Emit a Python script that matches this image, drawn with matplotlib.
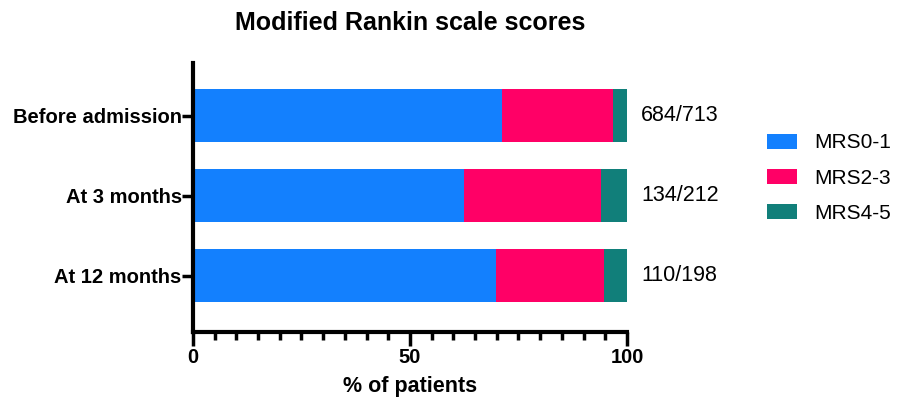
import numpy as np
import matplotlib.pyplot as plt

plt.rcParams['font.family'] = ['Liberation Sans', 'DejaVu Sans']

categories = ['At 12 months', 'At 3 months', 'Before admission']
mrs01 = [69.8, 62.5, 71.3]
mrs23 = [24.8, 31.6, 25.5]
mrs45 = [5.4, 5.9, 3.2]
counts = ['110/198', '134/212', '684/713']
series_names = ['MRS0-1', 'MRS2-3', 'MRS4-5']
colors = ['#1380FE', '#FF0066', '#117F7A']

fig = plt.figure(figsize=(8.97, 4.03), dpi=100)
ax = fig.add_axes([0.215, 0.177, 0.484, 0.667])

y = np.arange(len(categories))
left = np.zeros(len(categories))
for vals, name, c in zip([mrs01, mrs23, mrs45], series_names, colors):
    ax.barh(y, vals, left=left, height=0.66, color=c, label=name)
    left += np.array(vals)

for yi, txt in zip(y, counts):
    ax.text(103.3, yi, txt, va='center', ha='left', fontsize=15.5)

ax.set_xlim(0, 100)
ax.set_ylim(-0.7, 2.66)
ax.set_yticks(y)
ax.set_yticklabels(categories, fontsize=14.5, fontweight='bold')
ax.set_xticks([0, 50, 100])
ax.set_xticklabels(['0', '50', '100'], fontsize=14.5, fontweight='bold')
ax.set_xticks(np.arange(0, 101, 5), minor=True)
ax.tick_params(axis='x', which='major', length=10, width=2.5, direction='out', pad=2)
ax.tick_params(axis='x', which='minor', length=6, width=2.5, direction='out')
ax.tick_params(axis='y', length=8, width=2.5, pad=0)

for s in ['top', 'right']:
    ax.spines[s].set_visible(False)
for s in ['left', 'bottom']:
    ax.spines[s].set_linewidth(3)

ax.set_xlabel('% of patients', fontsize=15.5, fontweight='bold', labelpad=6)
fig.suptitle('Modified Rankin scale scores', x=0.457, y=0.972, fontsize=18, fontweight='bold')

ax.legend(loc='center left', bbox_to_anchor=(0.855, 0.558), bbox_transform=fig.transFigure,
          frameon=False, fontsize=15, handlelength=1.45, handleheight=0.72,
          labelspacing=0.78, handletextpad=0.8, borderpad=0, borderaxespad=0)

fig.savefig('out.png', dpi=100)
